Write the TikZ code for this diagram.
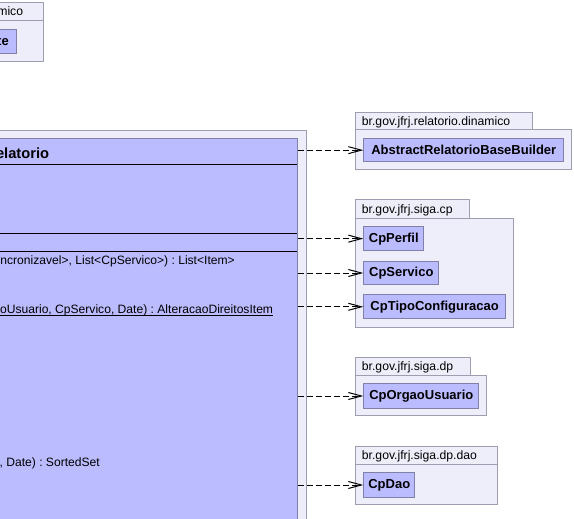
\documentclass[tikz,border=0pt]{standalone}
\usepackage{fontspec}
\setmainfont{Liberation Sans}
\usetikzlibrary{arrows.meta}
\frenchspacing
\definecolor{pkgfill}{RGB}{238,238,250}
\definecolor{pkgdraw}{RGB}{158,158,178}
\definecolor{clsfill}{RGB}{187,187,255}
\definecolor{clsdraw}{RGB}{128,128,168}
\tikzset{
  pkgbox/.style={draw=pkgdraw, fill=pkgfill, line width=1pt, inner sep=0pt, anchor=north west},
  clsbox/.style={draw=clsdraw, fill=clsfill, line width=1pt, inner sep=0pt, anchor=north west,
    font=\fontsize{13}{15}\selectfont\bfseries},
  pkglabel/.style={inner sep=0pt, anchor=base west, font=\fontsize{12.2}{14}\selectfont},
  optext/.style={inner sep=0pt, anchor=base east, font=\fontsize{12.1}{14}\selectfont},
  dep/.style={line width=1pt, dash pattern=on 6pt off 3pt,
    -{Straight Barb[length=13pt,width=7pt,line width=1pt]}}
}
\begin{document}
\begin{tikzpicture}[x=1pt,y=-1pt]
\useasboundingbox (0,0) rectangle (574,519);
\clip (0,0) rectangle (574,519);
\fill[white] (0,0) rectangle (574,519);

% top-left package (partially visible)
\node[pkgbox, minimum width=143.3pt, minimum height=18pt] (tlTab) at (-100,2.3) {};
\node[pkgbox, minimum width=143.3pt, minimum height=41pt] (tlBody) at (-100,20.3) {};
\node[inner sep=0pt, anchor=base east, font=\fontsize{12.2}{14}\selectfont] (tlLabel) at (23.3,15.7) {mico};
\node[clsbox, minimum width=115.7pt, minimum height=24.3pt] (tlCls) at (-100,29) {};
\node[inner sep=0pt, anchor=base east, font=\fontsize{13}{15}\selectfont\bfseries] (tlClsText) at (9,45.3) {te};

% main package and class (partially visible)
\node[pkgbox, minimum width=405.7pt, minimum height=430pt] (mainPkg) at (-100,130) {};
\node[clsbox, minimum width=397.3pt, minimum height=430pt] (main) at (-100,138) {};
\draw[line width=1pt] (-100,165) -- (297.3,165);
\draw[line width=1pt] (-100,233.3) -- (297.3,233.3);
\draw[line width=1pt] (-100,251) -- (297.3,251);
\node[inner sep=0pt, anchor=base east, font=\fontsize{14.7}{17}\selectfont\bfseries] (title) at (49.3,158.3) {elatorio};
\node[optext] (op1) at (235,264) {ncronizavel>, List<CpServico>) : List<Item>};
\node[optext] (op2) at (273.3,313) {oUsuario, CpServico, Date) : AlteracaoDireitosItem};
\draw[line width=1pt] ([yshift=-2pt]op2.base west) -- ([yshift=-2pt]op2.base east);
\node[optext] (op3) at (100,466) {, Date) : SortedSet};

% package br.gov.jfrj.relatorio.dinamico
\node[pkgbox, minimum width=177.3pt, minimum height=17.6pt] (p1Tab) at (355,111.7) {};
\node[pkgbox, minimum width=216pt, minimum height=40pt] (p1Body) at (355,129.3) {};
\node[pkglabel] (p1Label) at (361.7,125) {br.gov.jfrj.relatorio.dinamico};
\node[clsbox, minimum width=200pt, minimum height=22.7pt] (arbb) at (363.3,138.3) {AbstractRelatorioBaseBuilder};

% package br.gov.jfrj.siga.cp
\node[pkgbox, minimum width=114.3pt, minimum height=18.4pt] (p2Tab) at (355,199.3) {};
\node[pkgbox, minimum width=157.7pt, minimum height=109pt] (p2Body) at (355,217.7) {};
\node[pkglabel] (p2Label) at (361.7,213) {br.gov.jfrj.siga.cp};
\node[clsbox, minimum width=60pt, minimum height=24.3pt] (cpPerfil) at (363.3,226) {CpPerfil};
\node[clsbox, minimum width=75pt, minimum height=23.6pt] (cpServico) at (363.3,260.7) {CpServico};
\node[clsbox, minimum width=141.7pt, minimum height=24pt] (cpTipo) at (363.3,294.3) {CpTipoConfiguracao};

% package br.gov.jfrj.siga.dp
\node[pkgbox, minimum width=115.3pt, minimum height=18.3pt] (p3Tab) at (355,356.7) {};
\node[pkgbox, minimum width=131.3pt, minimum height=40.3pt] (p3Body) at (355,375) {};
\node[pkglabel] (p3Label) at (361.7,370.3) {br.gov.jfrj.siga.dp};
\node[clsbox, minimum width=115pt, minimum height=24.4pt] (cpOrgao) at (363.3,383.3) {CpOrgaoUsuario};

% package br.gov.jfrj.siga.dp.dao
\node[pkgbox, minimum width=141.7pt, minimum height=18.6pt] (p4Tab) at (355,445.7) {};
\node[pkgbox, minimum width=142.3pt, minimum height=40pt] (p4Body) at (355,464.3) {};
\node[pkglabel] (p4Label) at (361.7,459.7) {br.gov.jfrj.siga.dp.dao};
\node[clsbox, minimum width=51pt, minimum height=24.4pt] (cpDao) at (363.3,472.3) {CpDao};

% dependencies
\draw[dep] (main.east |- arbb.west) -- (arbb.west);
\draw[dep] (main.east |- cpPerfil.west) -- (cpPerfil.west);
\draw[dep] (main.east |- cpServico.west) -- (cpServico.west);
\draw[dep] (main.east |- cpTipo.west) -- (cpTipo.west);
\draw[dep] (main.east |- cpOrgao.west) -- (cpOrgao.west);
\draw[dep] (main.east |- cpDao.west) -- (cpDao.west);
\end{tikzpicture}
\end{document}
